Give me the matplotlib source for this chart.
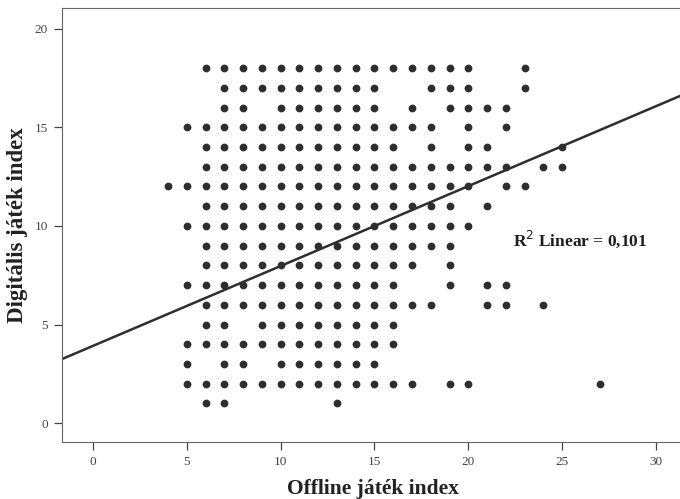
import matplotlib.pyplot as plt

# Data: offline index values present at each digital index level
digital_levels = [18, 17, 16, 15, 14, 13, 12, 11, 10, 9, 8, 7, 6, 5, 4, 3, 2, 1]
offline_at_level = [
    [6, 7, 8, 9, 10, 11, 12, 13, 14, 15, 16, 17, 18, 19, 20, 23],
    [7, 8, 9, 10, 11, 12, 13, 14, 15, 18, 19, 20, 23],
    [7, 8, 10, 11, 12, 13, 14, 15, 17, 19, 20, 21, 22],
    [5, 6, 7, 8, 9, 10, 11, 12, 13, 14, 15, 16, 17, 18, 20, 22],
    [6, 7, 8, 9, 10, 11, 12, 13, 14, 15, 16, 18, 20, 21, 25],
    [6, 7, 8, 9, 10, 11, 12, 13, 14, 15, 16, 17, 18, 19, 20, 21, 22, 24, 25],
    [4, 5, 6, 7, 8, 9, 10, 11, 12, 13, 14, 15, 16, 17, 18, 19, 20, 22, 23],
    [6, 7, 8, 9, 10, 11, 12, 13, 14, 15, 16, 17, 18, 19, 21],
    [5, 6, 7, 8, 9, 10, 11, 12, 13, 14, 15, 16, 17, 18, 19, 20],
    [6, 7, 8, 9, 10, 11, 12, 13, 14, 15, 16, 17, 18, 19],
    [6, 7, 8, 9, 10, 11, 12, 13, 14, 15, 16, 17, 19],
    [5, 6, 7, 8, 9, 10, 11, 12, 13, 14, 15, 16, 19, 21, 22],
    [6, 7, 8, 9, 10, 11, 12, 13, 14, 15, 16, 17, 18, 21, 22, 24],
    [6, 7, 9, 10, 11, 12, 13, 14, 15, 16],
    [5, 6, 7, 8, 9, 10, 11, 12, 13, 14, 15, 16],
    [5, 7, 8, 10, 11, 12, 13, 14, 15],
    [5, 6, 7, 8, 9, 10, 11, 12, 13, 14, 15, 16, 17, 19, 20, 27],
    [6, 7, 13],
]

# Fit line
fit_intercept = 3.92
fit_slope = 0.405
r2_text = "R$^2$ Linear = 0,101"

xs, ys = [], []
for lvl, offs in zip(digital_levels, offline_at_level):
    for o in offs:
        xs.append(o)
        ys.append(lvl)

plt.rcParams['font.family'] = ['Liberation Serif', 'DejaVu Serif']

fig = plt.figure(figsize=(6.8, 4.99), dpi=100)
ax = fig.add_axes([0.091, 0.114, 0.915, 0.870])

ax.plot(xs, ys, linestyle='none', marker='o', markersize=5.6,
        color='#2e2e2e', markeredgewidth=0)

x_lo, x_hi = -1.66, 31.5
ax.plot([x_lo, x_hi], [fit_intercept + fit_slope * x_lo, fit_intercept + fit_slope * x_hi],
        color='#2e2e2e', linewidth=1.8)

ax.text(22.4, 9.3, r2_text, fontsize=12.5, fontweight='semibold', color='#1e1e1e',
        va='center', ha='left')

ax.set_xlim(x_lo, x_hi)
ax.set_ylim(-0.96, 21.05)
ax.set_xticks([0, 5, 10, 15, 20, 25, 30])
ax.set_yticks([0, 5, 10, 15, 20])

for s in ax.spines.values():
    s.set_color('#666666')
    s.set_linewidth(0.8)

ax.tick_params(direction='out', length=6, width=0.9, colors='#444444',
               labelsize=9.5, pad=4)

ax.set_xlabel('Offline játék index', fontsize=15.5, fontweight='bold', color='#222222', labelpad=8)
ax.set_ylabel('Digitális játék index', fontsize=16.5, fontweight='bold', color='#222222', labelpad=5)

fig.savefig('out.png', dpi=100)
